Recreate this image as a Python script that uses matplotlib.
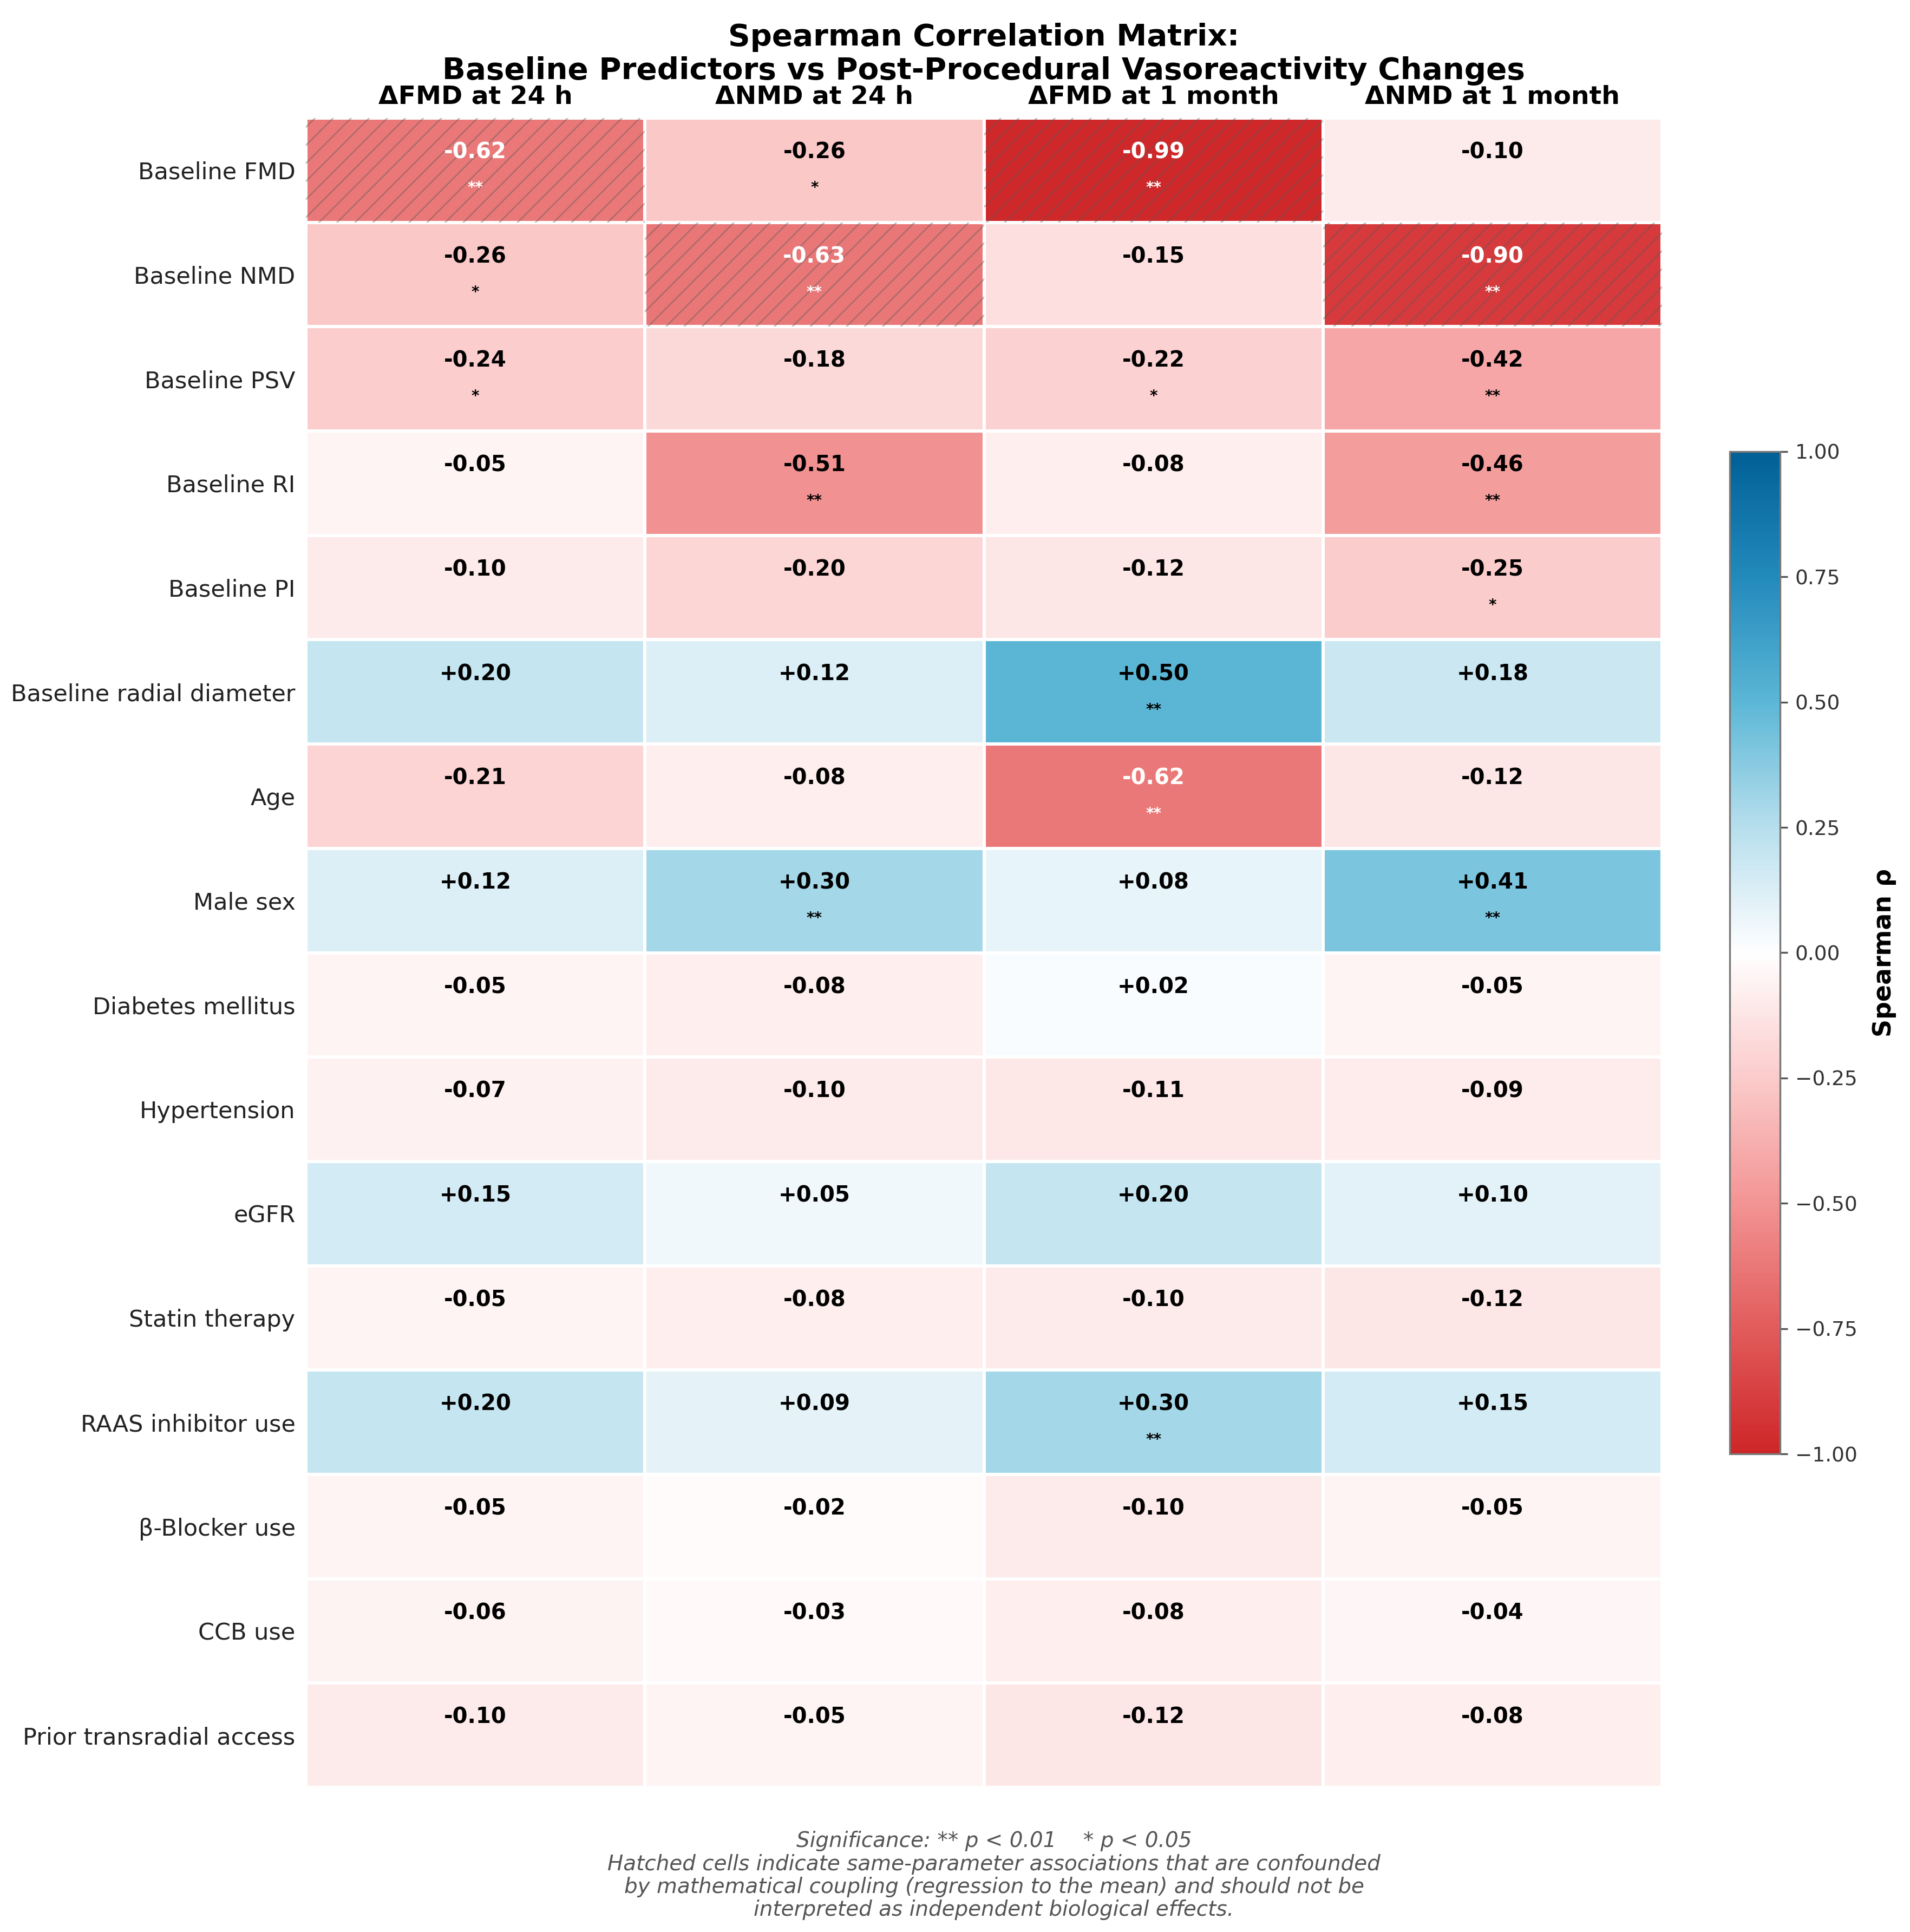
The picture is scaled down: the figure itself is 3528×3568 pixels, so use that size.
import numpy as np
import matplotlib
matplotlib.use("Agg")
import matplotlib.pyplot as plt
from matplotlib.colors import LinearSegmentedColormap
from matplotlib.patches import Rectangle

predictors = ["Baseline FMD", "Baseline NMD", "Baseline PSV", "Baseline RI", "Baseline PI",
              "Baseline radial diameter", "Age", "Male sex", "Diabetes mellitus", "Hypertension",
              "eGFR", "Statin therapy", "RAAS inhibitor use", "β-Blocker use", "CCB use",
              "Prior transradial access"]
outcomes = ["ΔFMD at 24 h", "ΔNMD at 24 h", "ΔFMD at 1 month", "ΔNMD at 1 month"]

d_fmd_24h = [-0.62, -0.26, -0.24, -0.05, -0.10, 0.20, -0.21, 0.12, -0.05, -0.07, 0.15, -0.05, 0.20, -0.05, -0.06, -0.10]
d_nmd_24h = [-0.26, -0.63, -0.18, -0.51, -0.20, 0.12, -0.08, 0.30, -0.08, -0.10, 0.05, -0.08, 0.09, -0.02, -0.03, -0.05]
d_fmd_1m = [-0.99, -0.15, -0.22, -0.08, -0.12, 0.50, -0.62, 0.08, 0.02, -0.11, 0.20, -0.10, 0.30, -0.10, -0.08, -0.12]
d_nmd_1m = [-0.10, -0.90, -0.42, -0.46, -0.25, 0.18, -0.12, 0.41, -0.05, -0.09, 0.10, -0.12, 0.15, -0.05, -0.04, -0.08]

sig_fmd_24h = ["**", "*", "*", "", "", "", "", "", "", "", "", "", "", "", "", ""]
sig_nmd_24h = ["*", "**", "", "**", "", "", "", "**", "", "", "", "", "", "", "", ""]
sig_fmd_1m = ["**", "", "*", "", "", "**", "**", "", "", "", "", "", "**", "", "", ""]
sig_nmd_1m = ["", "**", "**", "**", "*", "", "", "**", "", "", "", "", "", "", "", ""]

# (row, column) cells confounded by mathematical coupling
hatched_cells = [(0, 0), (1, 1), (0, 2), (1, 3)]

values = np.array([d_fmd_24h, d_nmd_24h, d_fmd_1m, d_nmd_1m]).T
sigs = np.array([sig_fmd_24h, sig_nmd_24h, sig_fmd_1m, sig_nmd_1m]).T

cmap = LinearSegmentedColormap.from_list("rdbu_custom", [
    (0.0, "#CE2628"), (0.125, "#E25C5C"), (0.25, "#F39494"), (0.375, "#FBCBCB"),
    (0.5, "#FFFFFF"), (0.625, "#B7DFED"), (0.75, "#5CB7D6"), (0.875, "#238ABC"),
    (1.0, "#016096")])

W, H = 3528, 3568
DPI = 200
fig = plt.figure(figsize=(W / DPI, H / DPI), dpi=DPI)
ax = fig.add_axes([565 / W, 1 - 3301 / H, 2505 / W, 3083 / H])

nr, nc = values.shape
mesh = ax.pcolormesh(np.arange(nc + 1), np.arange(nr + 1), values, cmap=cmap,
                     vmin=-1, vmax=1, edgecolors="white", linewidth=1.6)
ax.set_xlim(0, nc)
ax.set_ylim(nr, 0)

for (i, j) in hatched_cells:
    ax.add_patch(Rectangle((j, i), 1, 1, fill=False, hatch="//",
                           edgecolor=(0.35, 0.35, 0.35, 0.4), linewidth=0))

for i in range(nr):
    for j in range(nc):
        v = values[i, j]
        col = "white" if abs(v) >= 0.6 else "black"
        ax.text(j + 0.5, i + 0.33, f"{v:+.2f}", ha="center", va="center",
                fontsize=14.5, fontweight="bold", color=col)
        if sigs[i, j]:
            ax.text(j + 0.5, i + 0.67, sigs[i, j], ha="center", va="center",
                    fontsize=10, fontweight="bold", color=col)

ax.xaxis.tick_top()
ax.set_xticks(np.arange(nc) + 0.5)
ax.set_xticklabels(outcomes, fontsize=17, fontweight="bold")
ax.set_yticks(np.arange(nr) + 0.5)
ax.set_yticklabels(predictors, fontsize=15.5, color="#222222")
ax.tick_params(axis="both", length=0)
ax.tick_params(axis="x", pad=6)
ax.tick_params(axis="y", pad=7)
for s in ax.spines.values():
    s.set_visible(False)

cax = fig.add_axes([3195 / W, 1 - 2685 / H, 93 / W, 1851 / H])
cb = fig.colorbar(mesh, cax=cax, ticks=np.arange(-1, 1.01, 0.25))
cb.outline.set_edgecolor("#777777")
cb.outline.set_linewidth(1.2)
cax.tick_params(labelsize=13.5, labelcolor="#333333", color="#555555", length=5, width=1.2, pad=5)
cb.set_label("Spearman ρ", fontsize=16.5, fontweight="bold", labelpad=10)

fig.text(1817 / W, 1 - 146 / H,
         "Spearman Correlation Matrix:\nBaseline Predictors vs Post-Procedural Vasoreactivity Changes",
         ha="center", va="baseline", fontsize=20.3, fontweight="bold", multialignment="center")

fig.text(1836 / W, 1 - 3381 / H,
         "Significance: ** p < 0.01    * p < 0.05\n"
         "Hatched cells indicate same-parameter associations that are confounded\n"
         "by mathematical coupling (regression to the mean) and should not be\n"
         "interpreted as independent biological effects.",
         ha="center", va="top", fontsize=14, style="italic", color="#555555",
         multialignment="center", linespacing=1.15)

fig.savefig("out.png", dpi=DPI)
